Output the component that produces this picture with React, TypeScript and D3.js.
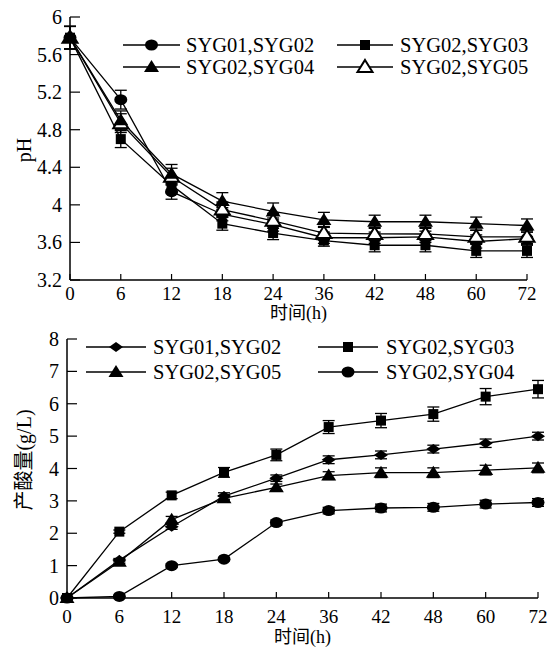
import * as d3 from 'd3'

// time points (h)
const hours = ['0', '6', '12', '18', '24', '36', '42', '48', '60', '72']

// pH panel
const phTicks = [3.2, 3.6, 4, 4.4, 4.8, 5.2, 5.6, 6]
const ph0102 = [5.78, 5.12, 4.14, 3.9, 3.79, 3.65, 3.65, 3.66, 3.61, 3.64]
const ph0102Err = [0.12, 0.1, 0.08, 0.07, 0.07, 0.06, 0.06, 0.06, 0.07, 0.07]
const ph0203 = [5.78, 4.7, 4.21, 3.8, 3.7, 3.62, 3.57, 3.57, 3.51, 3.51]
const ph0203Err = [0.12, 0.09, 0.08, 0.07, 0.07, 0.06, 0.07, 0.07, 0.07, 0.07]
const ph0204 = [5.78, 4.9, 4.33, 4.04, 3.93, 3.84, 3.82, 3.82, 3.8, 3.78]
const ph0204Err = [0.12, 0.1, 0.1, 0.09, 0.09, 0.08, 0.07, 0.07, 0.07, 0.07]
const ph0205 = [5.78, 4.87, 4.3, 3.95, 3.83, 3.7, 3.69, 3.69, 3.66, 3.66]
const ph0205Err = [0.12, 0.1, 0.09, 0.08, 0.08, 0.07, 0.07, 0.07, 0.07, 0.07]

// acid yield panel (g/L)
const acidTicks = [0, 1, 2, 3, 4, 5, 6, 7, 8]
const acid0102 = [0, 1.17, 2.2, 3.15, 3.7, 4.27, 4.42, 4.6, 4.78, 5.0]
const acid0102Err = [0, 0.05, 0.08, 0.1, 0.1, 0.12, 0.12, 0.12, 0.13, 0.12]
const acid0203 = [0, 2.05, 3.17, 3.88, 4.42, 5.28, 5.48, 5.68, 6.22, 6.45]
const acid0203Err = [0, 0.05, 0.1, 0.15, 0.18, 0.2, 0.22, 0.22, 0.25, 0.27]
const acid0205 = [0, 1.12, 2.42, 3.08, 3.42, 3.78, 3.87, 3.87, 3.95, 4.02]
const acid0205Err = [0, 0.05, 0.1, 0.08, 0.1, 0.12, 0.15, 0.15, 0.15, 0.15]
const acid0204 = [0, 0.05, 1.0, 1.2, 2.33, 2.7, 2.78, 2.8, 2.9, 2.95]
const acid0204Err = [0, 0.02, 0.05, 0.05, 0.08, 0.1, 0.12, 0.12, 0.12, 0.12]

const FONT = '"Liberation Serif", "Times New Roman", "Noto Sans CJK SC", serif'

type Shape = 'circle' | 'square' | 'triangle' | 'openTriangle' | 'diamond'

function Marker({ shape, x, y }: { shape: Shape; x: number; y: number }) {
  if (shape === 'circle') return <ellipse cx={x} cy={y} rx={6.5} ry={5.5} fill="#000" />
  if (shape === 'square') return <rect x={x - 5} y={y - 5} width={10} height={10} fill="#000" />
  if (shape === 'diamond')
    return <path d={`M${x - 7},${y}L${x},${y - 5}L${x + 7},${y}L${x},${y + 5}Z`} fill="#000" />
  const tri = `M${x},${y - 7}L${x + 7.5},${y + 5}L${x - 7.5},${y + 5}Z`
  if (shape === 'openTriangle') return <path d={tri} fill="#fff" stroke="#000" strokeWidth={2} />
  return <path d={tri} fill="#000" />
}

type Series = { name: string; values: number[]; err: number[]; shape: Shape }

function Panel({ series, ticks, fmt, xRange, yRange, yDomain, yLabel, labelY, legend, xLabelY, titleY }: any) {
  const x = d3.scalePoint<string>().domain(hours).range(xRange)
  const y = d3.scaleLinear().domain(yDomain).range(yRange)
  const line = d3.line<number>().x((_, i) => x(hours[i])!).y(d => y(d))
  const x0 = xRange[0]
  const yb = yRange[0]
  return (
    <g>
      {/* axes */}
      <line x1={x0} x2={x0} y1={yRange[1]} y2={yb} stroke="#000" strokeWidth={1.5} />
      <line x1={x0} x2={xRange[1]} y1={yb} y2={yb} stroke="#000" strokeWidth={1.5} />
      {ticks.map((t: number) => (
        <g key={t}>
          <line x1={x0} x2={x0 + 10} y1={y(t)} y2={y(t)} stroke="#000" strokeWidth={1.2} />
          <text x={x0 - 8} y={y(t)} dy="0.35em" textAnchor="end" fontSize={20}>{fmt(t)}</text>
        </g>
      ))}
      {hours.map(h => (
        <g key={h}>
          <line x1={x(h)} x2={x(h)} y1={yb} y2={yb - 6} stroke="#000" strokeWidth={1.2} />
          <text x={x(h)} y={xLabelY} dy="0.35em" textAnchor="middle" fontSize={19}>{h}</text>
        </g>
      ))}
      <text x={(xRange[0] + xRange[1]) / 2} y={titleY} dy="0.35em" textAnchor="middle" fontSize={18}>时间(h)</text>
      <text transform={`translate(24,${labelY}) rotate(-90)`} dy="0.35em" textAnchor="middle" fontSize={20}>{yLabel}</text>
      {/* series */}
      {series.map((s: Series) => (
        <path key={s.name + 'l'} d={line(s.values)!} fill="none" stroke="#000" strokeWidth={1.3} />
      ))}
      {series.map((s: Series) => (
        <g key={s.name + 'e'}>
          {s.values.map((v, i) => s.err[i] > 0.03 ? (
            <g key={i} stroke="#000" strokeWidth={1.3}>
              <line x1={x(hours[i])} x2={x(hours[i])} y1={y(v - s.err[i])} y2={y(v + s.err[i])} />
              <line x1={x(hours[i])! - 6} x2={x(hours[i])! + 6} y1={y(v - s.err[i])} y2={y(v - s.err[i])} />
              <line x1={x(hours[i])! - 6} x2={x(hours[i])! + 6} y1={y(v + s.err[i])} y2={y(v + s.err[i])} />
            </g>
          ) : null)}
        </g>
      ))}
      {series.map((s: Series) => (
        <g key={s.name + 'm'}>
          {s.values.map((v, i) => <Marker key={i} shape={s.shape} x={x(hours[i])!} y={y(v)} />)}
        </g>
      ))}
      {/* legend */}
      {legend.map((l: any, i: number) => (
        <g key={i}>
          <line x1={l.x1} x2={l.x2} y1={l.y} y2={l.y} stroke="#000" strokeWidth={1.3} />
          <Marker shape={l.s.shape} x={(l.x1 + l.x2) / 2} y={l.y} />
          <text x={l.tx} y={l.y} dy="0.35em" fontSize={20.5}>{l.s.name}</text>
        </g>
      ))}
    </g>
  )
}

export default function App() {
  const phSeries: Series[] = [
    { name: 'SYG01,SYG02', values: ph0102, err: ph0102Err, shape: 'circle' },
    { name: 'SYG02,SYG03', values: ph0203, err: ph0203Err, shape: 'square' },
    { name: 'SYG02,SYG05', values: ph0205, err: ph0205Err, shape: 'openTriangle' },
    { name: 'SYG02,SYG04', values: ph0204, err: ph0204Err, shape: 'triangle' },
  ]
  const acidSeries: Series[] = [
    { name: 'SYG01,SYG02', values: acid0102, err: acid0102Err, shape: 'diamond' },
    { name: 'SYG02,SYG03', values: acid0203, err: acid0203Err, shape: 'square' },
    { name: 'SYG02,SYG05', values: acid0205, err: acid0205Err, shape: 'triangle' },
    { name: 'SYG02,SYG04', values: acid0204, err: acid0204Err, shape: 'circle' },
  ]
  const phLegend = [
    { s: phSeries[0], x1: 123, x2: 180, y: 45, tx: 186 },
    { s: phSeries[1], x1: 337, x2: 393, y: 45, tx: 400 },
    { s: phSeries[3], x1: 123, x2: 180, y: 67, tx: 186 },
    { s: phSeries[2], x1: 337, x2: 393, y: 67, tx: 400 },
  ]
  const acidLegend = [
    { s: acidSeries[0], x1: 86, x2: 146, y: 347, tx: 153 },
    { s: acidSeries[1], x1: 318, x2: 378, y: 347, tx: 386 },
    { s: acidSeries[2], x1: 86, x2: 146, y: 372, tx: 153 },
    { s: acidSeries[3], x1: 318, x2: 378, y: 372, tx: 386 },
  ]
  return (
    <svg width={549} height={648} style={{ position: 'absolute', left: 0, top: 0, background: '#fff' }} fontFamily={FONT}>
      <rect width={549} height={648} fill="#fff" />
      <Panel series={phSeries} ticks={phTicks} fmt={(t: number) => String(t)}
        xRange={[70, 527]} yRange={[280, 17]} yDomain={[3.2, 6]} yLabel="pH" labelY={150}
        legend={phLegend} xLabelY={293} titleY={313} />
      <Panel series={acidSeries} ticks={acidTicks} fmt={(t: number) => String(t)}
        xRange={[67, 538]} yRange={[598, 339]} yDomain={[0, 8]} yLabel="产酸量(g/L)" labelY={460}
        legend={acidLegend} xLabelY={616} titleY={637} />
    </svg>
  )
}
